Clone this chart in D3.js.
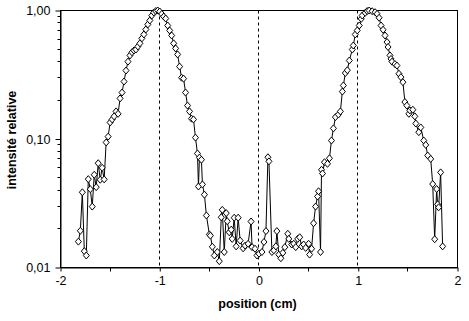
<!DOCTYPE html>
<html>
<head>
<meta charset="utf-8">
<script src="https://cdn.jsdelivr.net/npm/d3@7"></script>
<style>
  body { margin: 0; background: #fff; }
  svg { display: block; }
  text { font-family: Arial, "Liberation Sans", sans-serif; fill: #000; }
</style>
</head>
<body>
<svg width="469" height="321"></svg>
<script>
// position (cm) of each measurement
const positions = [
  -1.82, -1.80, -1.78, -1.76, -1.74, -1.72, -1.70, -1.68, -1.66, -1.64,
  -1.62, -1.60, -1.58, -1.56, -1.54, -1.52, -1.50, -1.48, -1.46, -1.44,
  -1.42, -1.40, -1.38, -1.36, -1.34, -1.32, -1.30, -1.28, -1.26, -1.24,
  -1.22, -1.20, -1.18, -1.16, -1.14, -1.12, -1.10, -1.08, -1.06, -1.04,
  -1.02, -1.00, -0.98, -0.96, -0.94, -0.92, -0.90, -0.88, -0.86, -0.84,
  -0.82, -0.80, -0.78, -0.76, -0.74, -0.72, -0.70, -0.68, -0.66, -0.64,
  -0.62, -0.61, -0.60, -0.58, -0.57, -0.55, -0.53, -0.50, -0.49, -0.47,
  -0.45, -0.42, -0.40, -0.38, -0.37, -0.35, -0.33, -0.32, -0.30, -0.28,
  -0.27, -0.25, -0.23, -0.21, -0.19, -0.16, -0.14, -0.11, -0.08, -0.07,
  -0.04, -0.02, 0.00, 0.03, 0.05, 0.07, 0.09, 0.10, 0.13, 0.15,
  0.17, 0.18, 0.20, 0.22, 0.24, 0.26, 0.29, 0.30, 0.33, 0.35,
  0.37, 0.39, 0.41, 0.43, 0.45, 0.47, 0.50, 0.51, 0.53, 0.55,
  0.57, 0.59, 0.60, 0.62, 0.63, 0.64, 0.66, 0.69, 0.71, 0.73,
  0.75, 0.77, 0.80, 0.82, 0.84, 0.85, 0.87, 0.89, 0.91, 0.94,
  0.95, 0.97, 0.99, 1.01, 1.03, 1.04, 1.07, 1.09, 1.11, 1.14,
  1.17, 1.19, 1.21, 1.23, 1.25, 1.27, 1.29, 1.30, 1.32, 1.33,
  1.34, 1.37, 1.39, 1.41, 1.43, 1.45, 1.47, 1.49, 1.51, 1.52,
  1.55, 1.57, 1.58, 1.61, 1.63, 1.66, 1.68, 1.70, 1.73, 1.75,
  1.77, 1.79, 1.80, 1.81, 1.83, 1.85
];

// relative intensity at each position
const intensities = [
  0.0159, 0.0193, 0.0385, 0.0134, 0.0124, 0.0487, 0.0407, 0.0298, 0.0527, 0.0422,
  0.0648, 0.0482, 0.0597, 0.0485, 0.094, 0.1044, 0.1345, 0.142, 0.150, 0.164,
  0.157, 0.207, 0.230, 0.280, 0.341, 0.400, 0.447, 0.473, 0.488, 0.497,
  0.525, 0.555, 0.607, 0.651, 0.712, 0.779, 0.836, 0.914, 0.965, 0.99,
  1.0, 0.982, 0.94, 0.897, 0.866, 0.764, 0.699, 0.639, 0.555, 0.507,
  0.455, 0.366, 0.300, 0.295, 0.230, 0.182, 0.164, 0.144, 0.142, 0.1025,
  0.0771, 0.0427, 0.0717, 0.0690, 0.0443, 0.0369, 0.0254, 0.0181, 0.0177, 0.0145,
  0.0124, 0.0132, 0.0112, 0.0246, 0.0281, 0.0132, 0.0265, 0.0229, 0.0188, 0.0197,
  0.0167, 0.0244, 0.0146, 0.0244, 0.0162, 0.0141, 0.0148, 0.0153, 0.0228, 0.0144,
  0.0140, 0.0124, 0.0128, 0.0132, 0.0158, 0.0192, 0.0721, 0.0670, 0.0132, 0.0136,
  0.0146, 0.0192, 0.0126, 0.0118, 0.0130, 0.0144, 0.0183, 0.0167, 0.0151, 0.0153,
  0.0144, 0.0167, 0.0172, 0.0146, 0.0151, 0.0142, 0.0153, 0.0126, 0.0140, 0.0221,
  0.0298, 0.0357, 0.0392, 0.0132, 0.0576, 0.0539, 0.0660, 0.0641, 0.0708, 0.0973,
  0.121, 0.148, 0.155, 0.164, 0.234, 0.261, 0.326, 0.343, 0.408, 0.497,
  0.534, 0.651, 0.699, 0.764, 0.861, 0.914, 0.959, 0.99, 1.0, 0.987,
  0.97, 0.942, 0.878, 0.764, 0.708, 0.639, 0.568, 0.52, 0.447, 0.42,
  0.40, 0.383, 0.373, 0.322, 0.303, 0.277, 0.194, 0.182, 0.157, 0.167,
  0.169, 0.150, 0.132, 0.113, 0.123, 0.0973, 0.090, 0.0744, 0.0700, 0.0446,
  0.0166, 0.0408, 0.031, 0.0294, 0.055, 0.0146
];

const xTicks = [-2, -1, 0, 1, 2];
const xTickLabels = ['-2', '-1', '0', '1', '2'];
const xMinorTicks = [-1.5, -0.5, 0.5, 1.5];
const yTicks = [0.01, 0.1, 1];
const yTickLabels = ['0,01', '0,10', '1,00'];
const yMinorTicks = [0.02, 0.03, 0.04, 0.05, 0.06, 0.07, 0.08, 0.09,
  0.2, 0.3, 0.4, 0.5, 0.6, 0.7, 0.8, 0.9];
const refLines = [-1, 0, 1];

const points = positions.map((p, i) => ({ x: p, y: intensities[i] }));

const x = d3.scaleLinear().domain([-2, 2]).range([60.5, 457.5]);
const y = d3.scaleLog().domain([0.01, 1]).range([267.5, 10.5]);

const svg = d3.select('svg');

// reference lines
svg
  .append('g')
  .selectAll('line')
  .data(refLines)
  .enter()
  .append('line')
  .attr('x1', (d) => Math.round(x(d)) - 0.5)
  .attr('x2', (d) => Math.round(x(d)) - 0.5)
  .attr('y1', y(1))
  .attr('y2', y(0.01))
  .attr('stroke', '#000')
  .attr('stroke-dasharray', '3,3');

// plot frame
svg
  .append('rect')
  .attr('x', x(-2))
  .attr('y', y(1))
  .attr('width', x(2) - x(-2))
  .attr('height', y(0.01) - y(1))
  .attr('fill', 'none')
  .attr('stroke', '#000');

const yAxis = svg
  .append('g')
  .attr('transform', `translate(${x(-2)},0)`)
  .call(
    d3
      .axisLeft(y)
      .tickValues(yTicks)
      .tickFormat((d, i) => yTickLabels[i])
      .tickSize(5)
      .tickSizeOuter(0)
      .tickPadding(5)
  );

yAxis
  .selectAll('.minor')
  .data(yMinorTicks)
  .enter()
  .append('line')
  .attr('class', 'minor')
  .attr('x1', -3)
  .attr('x2', 0)
  .attr('y1', (d) => Math.round(y(d) - 0.5) + 0.5)
  .attr('y2', (d) => Math.round(y(d) - 0.5) + 0.5)
  .attr('stroke', '#000');

const xAxis = svg
  .append('g')
  .attr('transform', `translate(0,${y(0.01)})`)
  .call(
    d3
      .axisBottom(x)
      .tickValues(xTicks)
      .tickFormat((d, i) => xTickLabels[i])
      .tickSize(4)
      .tickSizeOuter(0)
      .tickPadding(5)
  );

xAxis
  .selectAll('.minor')
  .data(xMinorTicks)
  .enter()
  .append('line')
  .attr('class', 'minor')
  .attr('x1', (d) => Math.round(x(d) - 0.5) + 0.5)
  .attr('x2', (d) => Math.round(x(d) - 0.5) + 0.5)
  .attr('y1', 0)
  .attr('y2', 4)
  .attr('stroke', '#000');

svg.selectAll('.tick text').style('font-size', '12.5px').style('font-family', 'Arial, "Liberation Sans", sans-serif');
svg.selectAll('.domain, .tick line').attr('stroke', '#000');

// data line + markers
const line = d3
  .line()
  .x((d) => x(d.x))
  .y((d) => y(d.y));

svg
  .append('path')
  .datum(points)
  .attr('d', line)
  .attr('fill', 'none')
  .attr('stroke', '#000')
  .attr('stroke-width', 1);

svg
  .append('g')
  .selectAll('path')
  .data(points)
  .enter()
  .append('path')
  .attr('d', 'M0,-3.5L3,0L0,3.5L-3,0Z')
  .attr('transform', (d) => `translate(${x(d.x)},${y(d.y)})`)
  .attr('fill', '#fff')
  .attr('stroke', '#000')
  .attr('stroke-width', 1);

// axis titles
svg
  .append('text')
  .attr('x', 257.5)
  .attr('y', 308)
  .attr('text-anchor', 'middle')
  .style('font-size', '12.5px')
  .style('font-weight', 'bold')
  .text('position (cm)');

svg
  .append('text')
  .attr('transform', 'translate(15.5,140) rotate(-90)')
  .attr('text-anchor', 'middle')
  .style('font-size', '12.5px')
  .style('font-weight', 'bold')
  .text('intensité relative');
</script>
</body>
</html>
